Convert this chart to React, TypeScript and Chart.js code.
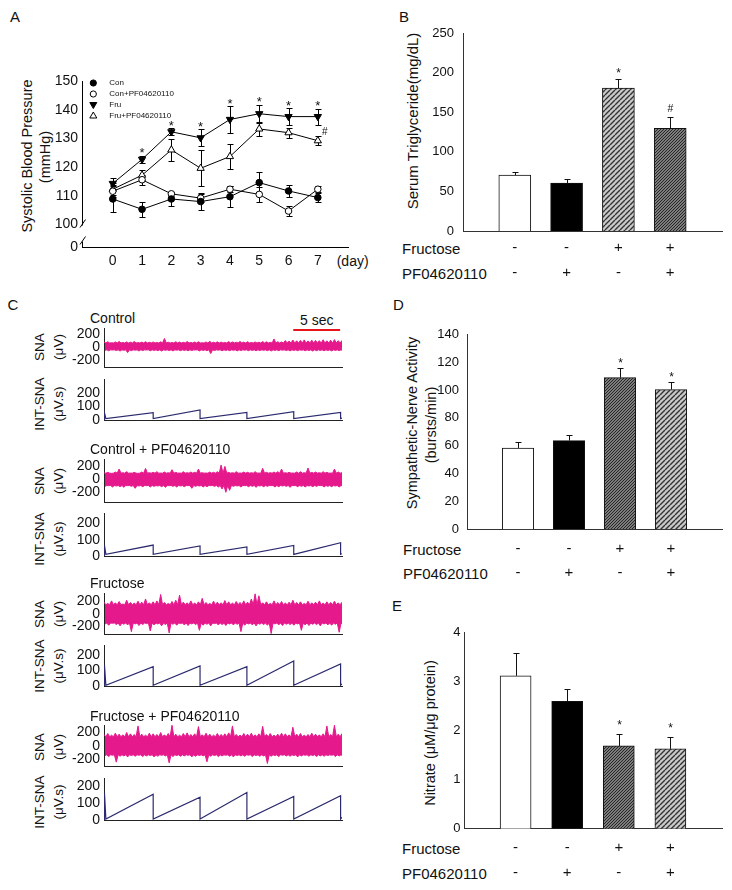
import React, { useEffect, useRef } from "react";
import { Chart, registerables } from "chart.js";
Chart.register(...registerables);

const FONT = "Arial, 'Liberation Sans', Helvetica, sans-serif";
const INK = "#111";
const MAG = "#e6198c";
const NAVY = "#2b2a6e";

// ---------------- Panel A data ----------------
const days = [0, 1, 2, 3, 4, 5, 6, 7];
const seriesNames = ["Con", "Con+PF04620110", "Fru", "Fru+PF04620110"];
const conMean = [108.9, 105.3, 108.9, 108.0, 109.7, 114.6, 111.7, 109.4];
const conErr = [4.5, 2.6, 2.5, 3.0, 3.7, 3.8, 2.0, 1.5];
const conPfMean = [111.6, 115.6, 110.7, 109.2, 112.3, 110.5, 104.7, 112.3];
const conPfErr = [2.0, 1.8, 0.8, 1.5, 1.0, 2.5, 1.8, 1.0];
const fruMean = [114.3, 122.7, 132.3, 130.2, 136.6, 138.6, 137.6, 137.6];
const fruErr = [2.0, 1.3, 1.2, 3.0, 4.6, 3.1, 2.9, 2.8];
const fruPfMean = [112.3, 117.2, 126.0, 119.6, 123.7, 133.3, 132.0, 129.2];
const fruPfErr = [2.0, 1.8, 3.7, 6.3, 4.2, 2.5, 1.8, 1.5];
const starDays = [1, 2, 3, 4, 5, 6, 7];
const hashDays = [7];
const yTicksA = [100, 110, 120, 130, 140, 150];
const brokenZero = 92; // value position standing for 0 below the axis break

// ---------------- Bar panels data ----------------
const groupFructose = ["-", "-", "+", "+"];
const groupPF = ["-", "+", "-", "+"];
const tgMean = [70.5, 60.4, 180.3, 129.6];
const tgErr = [4.2, 5.5, 11.7, 14.8];
const tgMarks = ["", "", "*", "#"];
const snaMean = [58.4, 63.7, 108.9, 100.3];
const snaErr = [4.5, 4.3, 6.7, 5.5];
const snaMarks = ["", "", "*", "*"];
const no3Mean = [3.12, 2.6, 1.69, 1.63];
const no3Err = [0.47, 0.26, 0.25, 0.24];
const no3Marks = ["", "", "*", "*"];

// ---------------- Panel C data ----------------
const timeSpan = 25.4; // seconds shown
const resetTimes = [5.25, 10.25, 15.25, 20.25, 25.25];
// spike peaks (upper) and troughs (lower) of the raw nerve recordings, µV
const upper1 = [
  70, 78, 62, 75, 82, 66, 74, 70, 80, 64, 72, 78, 68, 74, 66, 76,
  128, 70, 64, 78, 72, 68, 80, 66, 72, 78, 62, 74, 84, 70, 76, 72,
  66, 80, 74, 70, 82, 72, 78, 66, 74, 70, 80, 76, 68, 120, 78, 74,
  96, 88, 104, 92, 98, 106, 90, 102, 98, 94, 108, 92, 100, 110, 94, 98,
];
const lower1 = [
  -55, -62, -50, -58, -66, -54, -90, -60, -52, -64, -58, -50, -62, -56, -60, -66,
  -54, -58, -64, -52, -60, -56, -62, -58, -50, -64, -56, -60, -105, -58, -52, -62,
  -56, -60, -54, -64, -58, -52, -60, -56, -62, -58, -54, -60, -66, -56, -60, -52,
  -58, -64, -56, -60, -54, -62, -58, -66, -60, -56, -62, -58, -64, -56, -60, -58,
];
const upper2 = [
  90, 100, 85, 105, 150, 95, 110, 90, 100, 85, 105, 160, 95, 100, 110, 90,
  105, 95, 140, 100, 90, 110, 95, 105, 100, 150, 95, 90, 105, 100, 110, 210,
  190, 100, 95, 110, 90, 105, 100, 95, 110, 90, 160, 100, 95, 105, 110, 150,
  95, 100, 90, 105, 110, 95, 165, 100, 105, 95, 110, 100, 90, 150, 105, 95,
];
const lower2 = [
  -110, -100, -120, -105, -115, -125, -100, -110, -140, -105, -115, -100, -120, -110, -105, -115,
  -125, -100, -110, -120, -105, -115, -100, -140, -110, -105, -120, -115, -100, -110, -120, -150,
  -200, -170, -110, -105, -120, -100, -115, -110, -125, -105, -115, -110, -100, -120, -115, -105,
  -110, -125, -100, -115, -110, -120, -105, -115, -110, -100, -120, -110, -115, -105, -120, -110,
];
const upper3 = [
  180, 160, 200, 170, 190, 150, 210, 175, 165, 195, 180, 230, 170, 185, 200, 300,
  175, 160, 190, 210, 290, 180, 170, 200, 165, 185, 240, 175, 160, 195, 180, 170,
  205, 185, 165, 190, 175, 200, 180, 230, 310, 280, 170, 185, 160, 200, 175, 190,
  165, 180, 210, 175, 185, 160, 195, 170, 180, 200, 165, 185, 175, 195, 170, 180,
];
const lower3 = [
  -160, -180, -150, -170, -190, -165, -175, -280, -160, -185, -170, -155, -270, -175, -160, -190,
  -170, -300, -165, -180, -155, -175, -185, -160, -170, -260, -180, -165, -190, -155, -175, -170,
  -185, -160, -175, -165, -280, -180, -160, -175, -190, -165, -170, -180, -310, -160, -175, -185,
  -165, -170, -180, -160, -260, -175, -185, -165, -170, -190, -160, -175, -180, -165, -290, -170,
];
const upper4 = [
  170, 185, 160, 190, 175, 165, 200, 180, 170, 300, 175, 160, 190, 180, 170, 200,
  165, 185, 310, 175, 160, 185, 195, 170, 180, 290, 165, 190, 175, 160, 185, 170,
  180, 195, 300, 170, 160, 185, 175, 190, 165, 180, 295, 170, 185, 160, 175, 190,
  180, 165, 280, 175, 185, 160, 170, 190, 175, 165, 180, 300, 170, 310, 175, 185,
];
const lower4 = [
  -150, -165, -145, -250, -160, -155, -170, -150, -160, -145, -165, -155, -150, -170, -160, -145,
  -155, -260, -165, -150, -160, -155, -145, -170, -160, -150, -155, -245, -160, -150, -165, -155,
  -145, -160, -170, -150, -155, -160, -145, -165, -150, -160, -155, -270, -160, -150, -165, -145,
  -155, -160, -150, -170, -155, -145, -160, -150, -165, -155, -160, -150, -145, -165, -155, -160,
];
// solid core level of each recording between spikes, µV
const coreUp = [58, 88, 140, 135];
const coreDown = [-48, -98, -145, -138];
const int1Peaks = [54, 74, 57, 62, 57];
const int2Peaks = [67, 61, 55, 65, 81];
const int3Peaks = [125, 129, 125, 161, 142];
const int4Peaks = [154, 136, 164, 140, 144];
const intStart = [54, 65, 135, 160];
const intLow = [10, 10, 5, 6];
const intTail = [14, 14, 13, 16];
const snaTicks = [-200, 0, 200];
const intTicks = [0, 100, 200];

// ---------------- helpers ----------------
const fixW = (w: number) => (s: any) => {
  s.width = w;
  s.paddingTop = 0; s.paddingBottom = 0; s.paddingLeft = 0; s.paddingRight = 0;
};
const fixH = (h: number) => (s: any) => {
  s.height = h;
  s.paddingTop = 0; s.paddingBottom = 0; s.paddingLeft = 0; s.paddingRight = 0;
};
const baseOpts = {
  animation: false as const,
  responsive: false,
  maintainAspectRatio: false,
  devicePixelRatio: 1,
  events: [] as any[],
};

function ChartBox({ left, top, width, height, make }: any) {
  const ref = useRef<HTMLCanvasElement>(null);
  useEffect(() => {
    const c: Chart = make(ref.current!);
    return () => c.destroy();
  }, []);
  return (
    <canvas
      ref={ref}
      width={width}
      height={height}
      style={{ position: "absolute", left, top, width, height }}
    />
  );
}

function Txt({ x, y, size = 15, children }: any) {
  return (
    <div style={{ position: "absolute", left: x, top: y, fontSize: size, lineHeight: 1, whiteSpace: "nowrap", transform: "translateY(-50%)" }}>
      {children}
    </div>
  );
}
function VTxt({ x, y, size = 14, children }: any) {
  return (
    <div style={{ position: "absolute", left: x, top: y, fontSize: size, lineHeight: 1, whiteSpace: "nowrap", transform: "translate(-50%,-50%) rotate(-90deg)" }}>
      {children}
    </div>
  );
}

// ---------------- Panel A chart ----------------
function makeA(canvas: HTMLCanvasElement) {
  const mk = (label: string, mean: number[], err: number[], style: string, filled: boolean, rot: number, r: number) => ({
    label,
    data: days.map((d, i) => ({ x: d, y: mean[i] })),
    errors: err,
    borderColor: "#000",
    borderWidth: 1,
    pointStyle: style,
    pointRotation: rot,
    pointRadius: r,
    pointBackgroundColor: filled ? "#000" : "#fff",
    pointBorderColor: "#000",
    pointBorderWidth: 1,
    tension: 0,
    fill: false,
  });
  const datasets = [
    mk(seriesNames[0], conMean, conErr, "circle", true, 0, 3.3),
    mk(seriesNames[1], conPfMean, conPfErr, "circle", false, 0, 3.3),
    mk(seriesNames[2], fruMean, fruErr, "triangle", true, 180, 4.2),
    mk(seriesNames[3], fruPfMean, fruPfErr, "triangle", false, 0, 4.2),
  ];
  const errPlugin = {
    id: "errA",
    beforeDatasetsDraw(chart: any) {
      const { ctx } = chart;
      const xs = chart.scales.x, ys = chart.scales.y;
      ctx.save();
      ctx.strokeStyle = "#000";
      ctx.lineWidth = 1;
      chart.data.datasets.forEach((ds: any) => {
        ds.data.forEach((p: any, i: number) => {
          const px = Math.round(xs.getPixelForValue(p.x)) + 0.5;
          const t = Math.round(ys.getPixelForValue(p.y + ds.errors[i])) + 0.5;
          const b = Math.round(ys.getPixelForValue(p.y - ds.errors[i])) + 0.5;
          ctx.beginPath();
          ctx.moveTo(px, t); ctx.lineTo(px, b);
          ctx.moveTo(px - 3, t); ctx.lineTo(px + 3, t);
          ctx.moveTo(px - 3, b); ctx.lineTo(px + 3, b);
          ctx.stroke();
        });
      });
      ctx.restore();
    },
    afterDatasetsDraw(chart: any) {
      const { ctx } = chart;
      const xs = chart.scales.x, ys = chart.scales.y;
      ctx.save();
      ctx.fillStyle = INK;
      ctx.textAlign = "center";
      ctx.textBaseline = "alphabetic";
      ctx.font = `13px ${FONT}`;
      starDays.forEach((d) => {
        const px = xs.getPixelForValue(d);
        const t = ys.getPixelForValue(fruMean[d] + fruErr[d]);
        ctx.fillText("*", px, t + 1.5);
      });
      ctx.font = `10px ${FONT}`;
      hashDays.forEach((d) => {
        const px = xs.getPixelForValue(d);
        const t = ys.getPixelForValue(fruPfMean[d] + fruPfErr[d]);
        ctx.fillText("#", px + 7, t - 1);
      });
      ctx.restore();
    },
    afterDraw(chart: any) {
      const { ctx, chartArea } = chart;
      const ys = chart.scales.y;
      const x0 = Math.round(chartArea.left) + 0.5;
      const y100 = ys.getPixelForValue(100);
      const yb = chartArea.bottom;
      ctx.save();
      ctx.strokeStyle = "#000";
      ctx.lineWidth = 1;
      ctx.beginPath();
      ctx.moveTo(x0, chartArea.top); ctx.lineTo(x0, y100 + 1);
      ctx.moveTo(x0 - 2.5, y100 + 3); ctx.lineTo(x0 + 3, y100 - 5);
      ctx.moveTo(x0, yb); ctx.lineTo(x0, yb - 6);
      ctx.moveTo(x0 - 2.5, yb - 3); ctx.lineTo(x0 + 3, yb - 11);
      ctx.stroke();
      // legend
      const rows = [23, 34, 45, 55.5];
      const sx = 93.3, tx = 109.3;
      ctx.font = `8px ${FONT}`;
      ctx.textBaseline = "middle";
      ctx.textAlign = "left";
      ctx.fillStyle = INK;
      datasets.forEach((ds: any, i: number) => {
        const y = rows[i];
        ctx.beginPath();
        if (ds.pointStyle === "circle") {
          ctx.arc(sx, y, 3.1, 0, Math.PI * 2);
        } else if (ds.pointRotation === 180) {
          ctx.moveTo(sx - 3.5, y - 2.5); ctx.lineTo(sx + 3.5, y - 2.5); ctx.lineTo(sx, y + 3.5); ctx.closePath();
        } else {
          ctx.moveTo(sx - 3.5, y + 2.5); ctx.lineTo(sx + 3.5, y + 2.5); ctx.lineTo(sx, y - 3.5); ctx.closePath();
        }
        ctx.fillStyle = ds.pointBackgroundColor;
        ctx.fill();
        ctx.strokeStyle = "#000";
        ctx.stroke();
        ctx.fillStyle = INK;
        ctx.fillText(ds.label, tx, y);
      });
      ctx.restore();
    },
  };
  return new Chart(canvas, {
    type: "line",
    data: { datasets: datasets as any },
    options: {
      ...baseOpts,
      layout: { padding: { left: 0, top: 21, right: 12, bottom: 0 } },
      plugins: { legend: { display: false }, tooltip: { enabled: false } },
      scales: {
        x: {
          type: "linear", min: -1.05, max: 8.03,
          afterBuildTicks: (s: any) => { s.ticks = days.map((v) => ({ value: v })); },
          afterFit: fixH(27.5),
          grid: { display: false, drawTicks: false },
          border: { display: true, color: "#000", width: 1 },
          ticks: { autoSkip: false, padding: 4.8, color: INK, font: { family: FONT, size: 14 }, callback: (v: any) => String(v) },
        },
        y: {
          type: "linear", min: brokenZero, max: 150,
          afterBuildTicks: (s: any) => { s.ticks = [brokenZero, ...yTicksA].map((v) => ({ value: v })); },
          afterFit: fixW(82),
          grid: { display: false, drawTicks: false },
          border: { display: false },
          ticks: { autoSkip: false, padding: 4, color: INK, font: { family: FONT, size: 14 }, callback: (v: any) => (v === brokenZero ? "0" : String(v)) },
        },
      },
    } as any,
    plugins: [errPlugin],
  });
}

// ---------------- Bar charts ----------------
function hatch(kind: string): any {
  const c = document.createElement("canvas");
  const n = kind === "light" ? 5 : 3;
  c.width = n; c.height = n;
  const g = c.getContext("2d")!;
  g.fillStyle = kind === "light" ? "#cacaca" : "#7c7c7c";
  g.fillRect(0, 0, n, n);
  g.strokeStyle = kind === "light" ? "#333" : "#262626";
  g.lineWidth = kind === "light" ? 1.4 : 1;
  g.beginPath();
  for (const o of [-n, 0, n]) { g.moveTo(o, n); g.lineTo(o + n, 0); }
  g.stroke();
  return g.createPattern(c, "repeat");
}
function fillOf(k: string) {
  if (k === "white") return "#fff";
  if (k === "black") return "#000";
  return hatch(k);
}

function makeBar(canvas: HTMLCanvasElement, cfg: any) {
  const labels: any[] = ["", ...groupFructose.map((f, i) => [f, groupPF[i]]), ""];
  const data = [null, ...cfg.mean, null];
  const colors = ["#fff", ...cfg.fills.map(fillOf), "#fff"];
  const errPlugin = {
    id: "errBar",
    afterDatasetsDraw(chart: any) {
      const { ctx } = chart;
      const xs = chart.scales.x, ys = chart.scales.y;
      ctx.save();
      ctx.strokeStyle = "#111";
      ctx.lineWidth = 1;
      cfg.mean.forEach((m: number, i: number) => {
        const px = Math.round(xs.getPixelForValue(i + 1)) + 0.5;
        const t = Math.round(ys.getPixelForValue(m + cfg.err[i])) + 0.5;
        const b = ys.getPixelForValue(m);
        ctx.beginPath();
        ctx.moveTo(px, b); ctx.lineTo(px, t);
        ctx.moveTo(px - 3, t); ctx.lineTo(px + 3, t);
        ctx.stroke();
        const mk = cfg.marks[i];
        if (mk) {
          ctx.fillStyle = INK;
          ctx.textAlign = "center";
          ctx.textBaseline = "alphabetic";
          const size = mk === "*" ? 12 : 10.5;
          ctx.font = `${size}px ${FONT}`;
          const center = t - cfg.markOffset;
          ctx.fillText(mk, px, center + (mk === "*" ? 0.58 : 0.36) * size);
        }
      });
      ctx.restore();
    },
  };
  return new Chart(canvas, {
    type: "bar",
    data: {
      labels,
      datasets: [{
        data,
        backgroundColor: colors,
        borderColor: "#111",
        borderWidth: 1,
        barThickness: cfg.barThickness,
      } as any],
    },
    options: {
      ...baseOpts,
      layout: { padding: { left: 0, top: cfg.padTop, right: cfg.padRight, bottom: 0 } },
      plugins: { legend: { display: false }, tooltip: { enabled: false } },
      scales: {
        x: {
          type: "category", offset: false,
          afterFit: fixH(cfg.xH),
          grid: { display: false, drawTicks: false },
          border: { display: true, color: "#333", width: 1 },
          ticks: { autoSkip: false, maxRotation: 0, padding: cfg.xPad, color: INK, font: { family: FONT, size: 15, lineHeight: cfg.rowGap / 15 } },
        },
        y: {
          type: "linear", min: 0, max: cfg.yMax,
          afterFit: fixW(cfg.yW),
          grid: { display: false, drawTicks: false },
          border: { display: true, color: "#333", width: 1 },
          ticks: { autoSkip: false, stepSize: cfg.step, padding: cfg.yPad, color: INK, font: { family: FONT, size: cfg.tickSize } },
        },
      },
    } as any,
    plugins: [errPlugin],
  });
}

// ---------------- Trace charts ----------------
const traceRows = [
  { title: "Control", titleY: 318, snaTop: 328, snaBottom: 366.5, snaMin: -312, snaMax: 289, intTop: 379, intBottom: 420, intMax: 304, snaLabelY: 347, intLabelY: 403.5, upper: upper1, lower: lower1, peaks: int1Peaks },
  { title: "Control + PF04620110", titleY: 449, snaTop: 459.3, snaBottom: 502.3, snaMin: -346, snaMax: 301, intTop: 513.3, intBottom: 556.7, intMax: 263, snaLabelY: 480.7, intLabelY: 539, upper: upper2, lower: lower2, peaks: int2Peaks },
  { title: "Fructose", titleY: 583, snaTop: 593.3, snaBottom: 634.3, snaMin: -317, snaMax: 323, intTop: 645, intBottom: 686, intMax: 264.5, snaLabelY: 614, intLabelY: 666, upper: upper3, lower: lower3, peaks: int3Peaks },
  { title: "Fructose + PF04620110", titleY: 716, snaTop: 725, snaBottom: 766, snaMin: -308, snaMax: 314, intTop: 778.3, intBottom: 820, intMax: 250, snaLabelY: 747.3, intLabelY: 802, upper: upper4, lower: lower4, peaks: int4Peaks },
];
const TRACE_PAD_TOP = 12;
const TRACE_X_H = 10;

function traceScales(yMin: number, yMax: number, ticks: number[]) {
  return {
    x: {
      type: "linear", min: 0, max: timeSpan,
      afterFit: fixH(TRACE_X_H),
      grid: { display: false, drawTicks: false },
      border: { display: true, color: "#222", width: 1 },
      ticks: { display: false },
    },
    y: {
      type: "linear", min: yMin, max: yMax,
      afterBuildTicks: (s: any) => { s.ticks = ticks.map((v) => ({ value: v })); },
      afterFit: fixW(104),
      grid: { display: false, drawTicks: false },
      border: { display: true, color: "#222", width: 1 },
      ticks: { autoSkip: false, padding: 4, color: INK, font: { family: FONT, size: 14 }, callback: (v: any) => String(v) },
    },
  };
}

function makeSna(canvas: HTMLCanvasElement, row: any, k: number) {
  const dt = timeSpan / (row.upper.length - 1);
  // outline of the raw recording: each spike peak/trough alternates with the solid core level
  const top: any[] = [];
  const bottom: any[] = [];
  row.upper.forEach((u: number, i: number) => {
    top.push({ x: i * dt, y: u });
    top.push({ x: i * dt + dt / 2, y: coreUp[k] });
  });
  row.lower.forEach((l: number, i: number) => {
    bottom.push({ x: i * dt + dt / 4, y: l });
    bottom.push({ x: i * dt + (3 * dt) / 4, y: coreDown[k] });
  });
  const barPlugin = {
    id: "scaleBar",
    afterDraw(chart: any) {
      if (k !== 0) return;
      const { ctx, chartArea } = chart;
      const xs = chart.scales.x;
      ctx.save();
      ctx.strokeStyle = "#e8141c";
      ctx.lineWidth = 2;
      ctx.beginPath();
      ctx.moveTo(xs.getPixelForValue(20.2), chartArea.top + 2);
      ctx.lineTo(xs.getPixelForValue(25.2), chartArea.top + 2);
      ctx.stroke();
      ctx.restore();
    },
  };
  return new Chart(canvas, {
    type: "line",
    data: {
      datasets: [
        { data: top, borderColor: MAG, borderWidth: 1, pointRadius: 0, fill: false, tension: 0 },
        { data: bottom, borderColor: MAG, borderWidth: 1, pointRadius: 0, fill: "-1", backgroundColor: MAG, tension: 0 },
      ],
    },
    options: {
      ...baseOpts,
      layout: { padding: { left: 0, top: TRACE_PAD_TOP, right: 8, bottom: 0 } },
      plugins: { legend: { display: false }, tooltip: { enabled: false } },
      scales: traceScales(row.snaMin, row.snaMax, snaTicks),
    } as any,
    plugins: [barPlugin],
  });
}

function sawPoints(start: number, peaks: number[], low: number, tail: number) {
  const pts: any[] = [{ x: 0.05, y: 0 }, { x: 0.05, y: start }, { x: 0.2, y: low }];
  peaks.forEach((p, i) => {
    pts.push({ x: resetTimes[i], y: p });
    pts.push({ x: resetTimes[i], y: low });
  });
  pts.push({ x: timeSpan, y: tail });
  return pts;
}

function makeInt(canvas: HTMLCanvasElement, row: any, k: number) {
  return new Chart(canvas, {
    type: "line",
    data: {
      datasets: [
        { data: sawPoints(intStart[k], row.peaks, intLow[k], intTail[k]), borderColor: NAVY, borderWidth: 1.2, pointRadius: 0, fill: false, tension: 0 },
      ],
    },
    options: {
      ...baseOpts,
      layout: { padding: { left: 0, top: TRACE_PAD_TOP, right: 8, bottom: 0 } },
      plugins: { legend: { display: false }, tooltip: { enabled: false } },
      scales: traceScales(0, row.intMax, intTicks),
    } as any,
  });
}

// ---------------- App ----------------
export default function App() {
  const barB = { mean: tgMean, err: tgErr, marks: tgMarks, fills: ["white", "black", "light", "dark"], yMax: 250, step: 50, padTop: 13, padRight: 10, yW: 83, xH: 59, barThickness: 32, xPad: 4.8, rowGap: 25, yPad: 9, tickSize: 13, markOffset: 9 };
  const barD = { mean: snaMean, err: snaErr, marks: snaMarks, fills: ["white", "black", "dark", "light"], yMax: 140, step: 20, padTop: 24.3, padRight: 10, yW: 87, xH: 60.7, barThickness: 31.5, xPad: 7.5, rowGap: 24.3, yPad: 8, tickSize: 13, markOffset: 8.5 };
  const barE = { mean: no3Mean, err: no3Err, marks: no3Marks, fills: ["white", "black", "dark", "light"], yMax: 4, step: 1, padTop: 22.7, padRight: 10, yW: 84, xH: 61.3, barThickness: 31, xPad: 7.1, rowGap: 25, yPad: 3.5, tickSize: 13, markOffset: 12 };

  return (
    <div style={{ position: "absolute", left: 0, top: 0, width: 732, height: 890, background: "#fff", overflow: "hidden", fontFamily: FONT, color: INK }}>
      {/* panel letters */}
      <Txt x={10} y={16}>A</Txt>
      <Txt x={399} y={15.5}>B</Txt>
      <Txt x={7.5} y={304}>C</Txt>
      <Txt x={393} y={304}>D</Txt>
      <Txt x={392} y={605}>E</Txt>

      {/* Panel A */}
      <VTxt x={27} y={155.7} size={14.5}>Systolic Blood Pressure</VTxt>
      <VTxt x={44.7} y={156.7} size={14.5}>(mmHg)</VTxt>
      <Txt x={336.7} y={260.7} size={14}>(day)</Txt>
      <ChartBox left={0} top={60} width={360} height={215} make={makeA} />

      {/* Panel B */}
      <VTxt x={411.7} y={120.7} size={15}>Serum Triglyceride(mg/dL)</VTxt>
      <Txt x={402} y={248.3}>Fructose</Txt>
      <Txt x={402} y={273.3}>PF04620110</Txt>
      <ChartBox left={380} top={20} width={352} height={270} make={(c: HTMLCanvasElement) => makeBar(c, barB)} />

      {/* Panel D */}
      <VTxt x={412} y={423.3} size={14.5}>Sympathetic-Nerve Activity</VTxt>
      <VTxt x={430.7} y={425} size={14.5}>(bursts/min)</VTxt>
      <Txt x={403} y={549}>Fructose</Txt>
      <Txt x={403} y={573.3}>PF04620110</Txt>
      <ChartBox left={380} top={310} width={352} height={280} make={(c: HTMLCanvasElement) => makeBar(c, barD)} />

      {/* Panel E */}
      <VTxt x={430} y={733.3} size={14.5}>Nitrate (μM/μg protein)</VTxt>
      <Txt x={402} y={848.3}>Fructose</Txt>
      <Txt x={402} y={873.3}>PF04620110</Txt>
      <ChartBox left={380} top={610} width={352} height={280} make={(c: HTMLCanvasElement) => makeBar(c, barE)} />

      {/* Panel C */}
      <Txt x={300} y={320} size={14}>5 sec</Txt>
      {traceRows.map((row, k) => {
        const snaCanvasTop = row.snaTop - TRACE_PAD_TOP;
        const intCanvasTop = row.intTop - TRACE_PAD_TOP;
        return (
          <React.Fragment key={k}>
            <Txt x={90} y={row.titleY} size={14}>{row.title}</Txt>
            <VTxt x={40} y={row.snaLabelY} size={13.5}>SNA</VTxt>
            <VTxt x={59} y={row.snaLabelY} size={13.5}>(μV)</VTxt>
            <VTxt x={40} y={row.intLabelY} size={13.5}>INT-SNA</VTxt>
            <VTxt x={59} y={row.intLabelY} size={13.5}>(μV.s)</VTxt>
            <ChartBox left={0} top={snaCanvasTop} width={350} height={Math.round(row.snaBottom - snaCanvasTop + TRACE_X_H)} make={(c: HTMLCanvasElement) => makeSna(c, row, k)} />
            <ChartBox left={0} top={intCanvasTop} width={350} height={Math.round(row.intBottom - intCanvasTop + TRACE_X_H)} make={(c: HTMLCanvasElement) => makeInt(c, row, k)} />
          </React.Fragment>
        );
      })}
    </div>
  );
}
